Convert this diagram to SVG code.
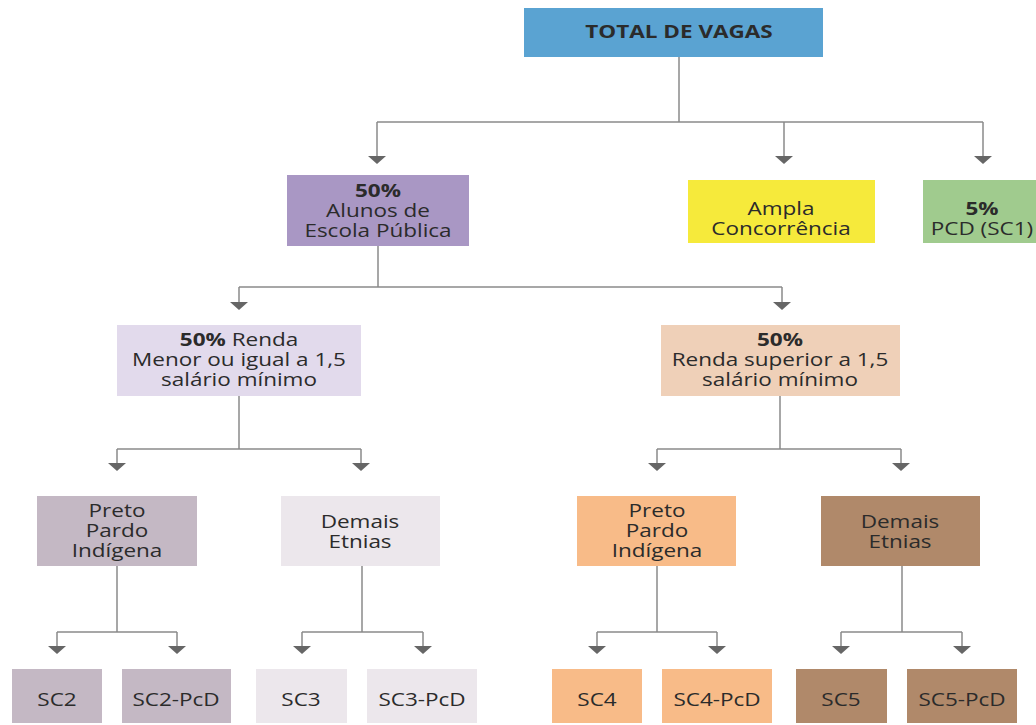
<svg xmlns="http://www.w3.org/2000/svg" xmlns:xlink="http://www.w3.org/1999/xlink" width="1036" height="725" viewBox="0 0 1036 725">
<defs>
<style>
text{font-family:"Open Sans","Noto Sans","DejaVu Sans",sans-serif;font-size:18px;fill:#2b2b2b;text-anchor:middle}
.b{font-weight:bold}
.c{fill:none;stroke:#8a8a8a;stroke-width:1.5}
.a{fill:#666666;stroke:none}
</style>
<path id="tri" class="a" d="M-9,0 L9,0 L0,8 Z"/>
</defs>
<rect width="1036" height="725" fill="#ffffff"/>
<g id="connectors">
<path class="c" d="M679,57 V122 M377,122 H983 M377,122 V157 M784,122 V157 M983,122 V157"/>
<path class="c" d="M378,246 V287 M239,287 H782 M239,287 V303 M782,287 V303"/>
<path class="c" d="M239,396 V449 M117,449 H361 M117,449 V464 M361,449 V464"/>
<path class="c" d="M780,396 V449 M657,449 H901 M657,449 V464 M901,449 V464"/>
<path class="c" d="M117,566 V632 M57,632 H177 M57,632 V647 M177,632 V647"/>
<path class="c" d="M362,566 V632 M302,632 H423 M302,632 V647 M423,632 V647"/>
<path class="c" d="M657,566 V632 M597,632 H717 M597,632 V647 M717,632 V647"/>
<path class="c" d="M902,566 V632 M841,632 H962 M841,632 V647 M962,632 V647"/>
<use xlink:href="#tri" href="#tri" x="377" y="156"/>
<use xlink:href="#tri" href="#tri" x="784" y="156"/>
<use xlink:href="#tri" href="#tri" x="983" y="156"/>
<use xlink:href="#tri" href="#tri" x="239" y="302"/>
<use xlink:href="#tri" href="#tri" x="782" y="302"/>
<use xlink:href="#tri" href="#tri" x="117" y="463"/>
<use xlink:href="#tri" href="#tri" x="361" y="463"/>
<use xlink:href="#tri" href="#tri" x="657" y="463"/>
<use xlink:href="#tri" href="#tri" x="901" y="463"/>
<use xlink:href="#tri" href="#tri" x="57" y="646"/>
<use xlink:href="#tri" href="#tri" x="177" y="646"/>
<use xlink:href="#tri" href="#tri" x="302" y="646"/>
<use xlink:href="#tri" href="#tri" x="423" y="646"/>
<use xlink:href="#tri" href="#tri" x="597" y="646"/>
<use xlink:href="#tri" href="#tri" x="717" y="646"/>
<use xlink:href="#tri" href="#tri" x="841" y="646"/>
<use xlink:href="#tri" href="#tri" x="962" y="646"/>
</g>
<g id="total"><rect x="524" y="8" width="299" height="49" fill="#5aa3d2"/><text transform="translate(679,0) scale(1.25,1)" x="0" y="38" class="b">TOTAL DE VAGAS</text></g>
<g id="publica"><rect x="287" y="175" width="182" height="71" fill="#a997c4"/><text transform="translate(378,0) scale(1.25,1)"><tspan x="0" y="197" class="b">50%</tspan><tspan x="0" y="217">Alunos de</tspan><tspan x="0" y="237">Escola Pública</tspan></text></g>
<g id="ampla"><rect x="688" y="180" width="187" height="63" fill="#f6ea3b"/><text transform="translate(781,0) scale(1.25,1)"><tspan x="0" y="215">Ampla</tspan><tspan x="0" y="235">Concorrência</tspan></text></g>
<g id="pcd"><rect x="923" y="180" width="118" height="63" fill="#a0cb8e"/><text transform="translate(982,0) scale(1.25,1)"><tspan x="0" y="215" class="b">5%</tspan><tspan x="0" y="235">PCD (SC1)</tspan></text></g>
<g id="renda-menor"><rect x="117" y="325" width="244" height="71" fill="#e2daec"/><text transform="translate(239,0) scale(1.25,1)"><tspan x="0" y="346"><tspan class="b">50%</tspan> Renda</tspan><tspan x="0" y="366">Menor ou igual a 1,5</tspan><tspan x="0" y="386">salário mínimo</tspan></text></g>
<g id="renda-superior"><rect x="661" y="325" width="239" height="71" fill="#efd0b8"/><text transform="translate(780,0) scale(1.25,1)"><tspan x="0" y="346" class="b">50%</tspan><tspan x="0" y="366">Renda superior a 1,5</tspan><tspan x="0" y="386">salário mínimo</tspan></text></g>
<g id="ppi-menor"><rect x="37" y="496" width="160" height="70" fill="#c4b8c4"/><text transform="translate(117,0) scale(1.25,1)"><tspan x="0" y="517">Preto</tspan><tspan x="0" y="537">Pardo</tspan><tspan x="0" y="557">Indígena</tspan></text></g>
<g id="demais-menor"><rect x="281" y="496" width="159" height="70" fill="#ece7ec"/><text transform="translate(360,0) scale(1.25,1)"><tspan x="0" y="528">Demais</tspan><tspan x="0" y="548">Etnias</tspan></text></g>
<g id="ppi-superior"><rect x="577" y="496" width="159" height="70" fill="#f8bb88"/><text transform="translate(657,0) scale(1.25,1)"><tspan x="0" y="517">Preto</tspan><tspan x="0" y="537">Pardo</tspan><tspan x="0" y="557">Indígena</tspan></text></g>
<g id="demais-superior"><rect x="821" y="496" width="159" height="70" fill="#b0896a"/><text transform="translate(900,0) scale(1.25,1)"><tspan x="0" y="528">Demais</tspan><tspan x="0" y="548">Etnias</tspan></text></g>
<g id="sc2"><rect x="12" y="669" width="90" height="54" fill="#c4b8c4"/><text transform="translate(57,0) scale(1.25,1)" x="0" y="706">SC2</text></g>
<g id="sc2pcd"><rect x="122" y="669" width="109" height="54" fill="#c4b8c4"/><text transform="translate(176,0) scale(1.25,1)" x="0" y="706">SC2-PcD</text></g>
<g id="sc3"><rect x="256" y="669" width="91" height="54" fill="#ece7ec"/><text transform="translate(301,0) scale(1.25,1)" x="0" y="706">SC3</text></g>
<g id="sc3pcd"><rect x="367" y="669" width="110" height="54" fill="#ece7ec"/><text transform="translate(422,0) scale(1.25,1)" x="0" y="706">SC3-PcD</text></g>
<g id="sc4"><rect x="552" y="669" width="90" height="54" fill="#f8bb88"/><text transform="translate(597,0) scale(1.25,1)" x="0" y="706">SC4</text></g>
<g id="sc4pcd"><rect x="662" y="669" width="110" height="54" fill="#f8bb88"/><text transform="translate(717,0) scale(1.25,1)" x="0" y="706">SC4-PcD</text></g>
<g id="sc5"><rect x="796" y="669" width="91" height="54" fill="#b0896a"/><text transform="translate(841,0) scale(1.25,1)" x="0" y="706">SC5</text></g>
<g id="sc5pcd"><rect x="907" y="669" width="110" height="54" fill="#b0896a"/><text transform="translate(962,0) scale(1.25,1)" x="0" y="706">SC5-PcD</text></g>
</svg>
